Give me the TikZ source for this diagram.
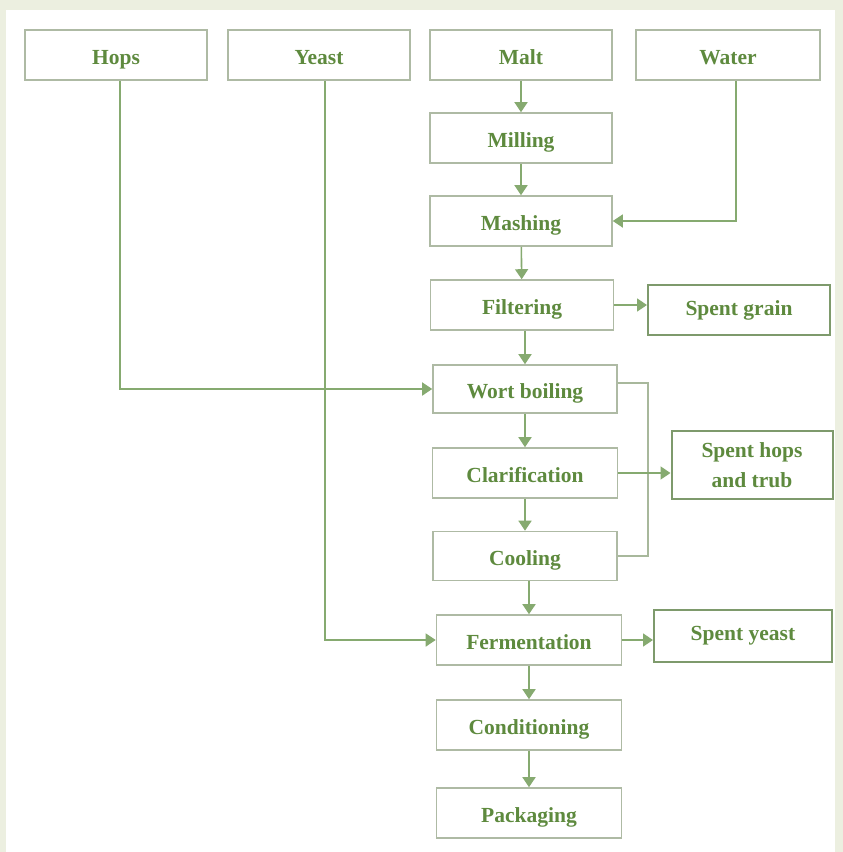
\documentclass[tikz,border=0pt]{standalone}
\usepackage{fontspec}
\setmainfont{Liberation Serif}
\usetikzlibrary{arrows.meta}
\definecolor{pagebg}{HTML}{ECEFE0}
\definecolor{boxline}{HTML}{AEBAA4}
\definecolor{darkline}{HTML}{7E9A6C}
\definecolor{txt}{HTML}{5E8A3E}
\definecolor{conn}{HTML}{A8B89C}
\definecolor{tipc}{HTML}{86AA70}
\tikzset{
  stage/.style={draw=boxline, line width=1.6pt, fill=white, minimum width=182pt,
    minimum height=50pt, inner sep=0pt, text height=20pt, text depth=2pt,
    font=\fontsize{21.5}{25}\selectfont\bfseries, text=txt},
  waste/.style={stage, draw=darkline, line width=2pt, align=center, text height=, text depth=},
  flow/.style={draw=conn, line width=1.6pt, -{Triangle[length=10pt,width=13pt,fill=tipc]}, tipc},
  feed/.style={draw=conn, line width=1.6pt}
}
\begin{document}
\begin{tikzpicture}[x=1pt,y=-1pt]
  % page ground and white panel
  \fill[pagebg] (0,0) rectangle (843,852);
  \fill[white] (6,10) rectangle (835,852);
  \useasboundingbox (0,0) rectangle (843,852);

  % raw materials
  \node[stage] (hops)  at (116,55) {Hops};
  \node[stage] (yeast) at (319,55) {Yeast};
  \node[stage] (malt)  at (521,55) {Malt};
  \node[stage, minimum width=184pt] (water) at (728,55) {Water};

  % process stages
  \node[stage] (mill)  at (521,138) {Milling};
  \node[stage] (mash)  at (521,221) {Mashing};
  \node[stage, minimum width=183pt] (filt)  at (522,305) {Filtering};
  \node[stage, minimum width=184pt, minimum height=48pt] (boil)  at (525,389) {Wort boiling};
  \node[stage, minimum width=185pt] (clar)  at (525,473) {Clarification};
  \node[stage, minimum width=184pt, minimum height=49pt] (cool)  at (525,556) {Cooling};
  \node[stage, minimum width=185pt] (ferm)  at (529,640) {Fermentation};
  \node[stage, minimum width=185pt] (cond)  at (529,725) {Conditioning};
  \node[stage, minimum width=185pt] (pack)  at (529,813) {Packaging};

  % by-products
  \node[waste] (grain) at (739,310) {Spent grain};
  \node[waste, minimum width=161pt, minimum height=68pt] (hopw) at (752,465) {Spent hops\\[5pt]and trub};
  \node[waste, minimum width=178pt, minimum height=52pt] (sy) at (743,636) {Spent yeast};

  % main line
  \draw[flow] (malt) -- (mill);
  \draw[flow] (mill) -- (mash);
  \draw[flow] (mash) -- (filt);
  \draw[flow] (filt.south -| boil.north) -- (boil);
  \draw[flow] (boil) -- (clar);
  \draw[flow] (clar) -- (cool);
  \draw[flow] (cool.south -| ferm.north) -- (ferm);
  \draw[flow] (ferm) -- (cond);
  \draw[flow] (cond) -- (pack);

  % feeds from the raw materials
  \draw[flow] (hops.south -| 120,0) |- (boil.west);
  \draw[flow] (yeast.south -| 325,0) |- (ferm.west);
  \draw[flow] (water.south -| 736,0) |- (mash.east);

  % by-product outlets
  \draw[flow] (filt.east) -- (filt.east -| grain.west);
  \coordinate (bus) at (648,0);
  \draw[feed] (boil.east |- 0,383) -| (bus |- cool.east) -- (cool.east);
  \draw[flow] (clar.east) -- (clar.east -| hopw.west);
  \draw[flow] (ferm.east) -- (ferm.east -| sy.west);
\end{tikzpicture}
\end{document}
